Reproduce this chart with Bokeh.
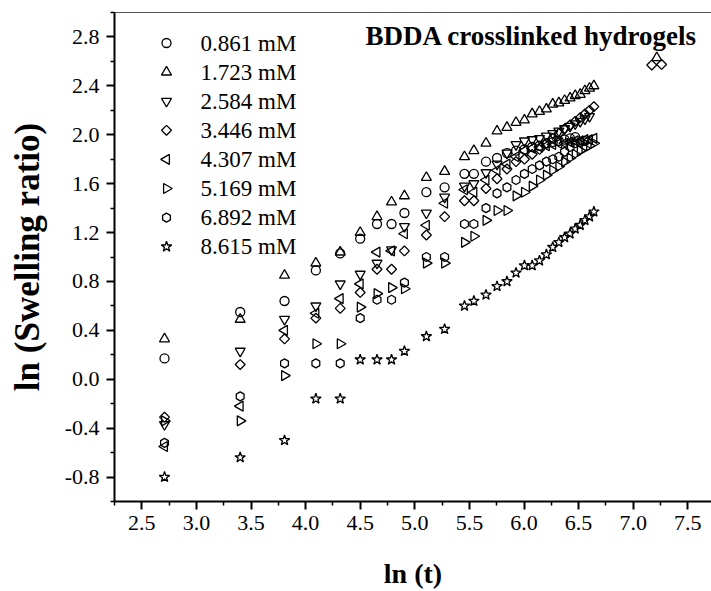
import numpy as np
from bokeh.plotting import figure
from bokeh.models import Label, LinearAxis, FixedTicker, Range1d
from bokeh.embed import file_html
from bokeh.resources import INLINE
from bokeh.core.properties import value

# ---------------- data ----------------
ln_t = [2.708, 3.401, 3.807, 4.094, 4.317, 4.500, 4.654, 4.787, 4.905, 5.106,
        5.273, 5.455, 5.541, 5.652, 5.753, 5.844, 5.927, 6.004, 6.075, 6.142,
        6.205, 6.263, 6.319, 6.372, 6.422, 6.469, 6.515, 6.558, 6.600, 6.640]

labels = ["0.861 mM", "1.723 mM", "2.584 mM", "3.446 mM",
          "4.307 mM", "5.169 mM", "6.892 mM", "8.615 mM"]

y_0861 = [0.17, 0.55, 0.64, 0.89, 1.03, 1.15, 1.27, 1.27, 1.36, 1.53, 1.57, 1.68, 1.68,
          1.78, 1.81, 1.85, 1.87, 1.88, 1.90, 1.91, 1.93, 1.94, 1.95, 1.96, 1.97, 1.98]
x_0861 = ln_t[:len(y_0861)]

y_1723 = [0.33, 0.49, 0.85, 0.95, 1.04, 1.20, 1.33, 1.45, 1.50, 1.65, 1.70, 1.82, 1.87,
          1.93, 2.03, 2.06, 2.10, 2.12, 2.17, 2.19, 2.21, 2.25, 2.26, 2.28, 2.30, 2.32,
          2.33, 2.36, 2.38, 2.40, 2.63]
x_1723 = ln_t + [7.216]

y_2584 = [-0.37, 0.23, 0.49, 0.60, 0.78, 0.86, 0.95, 1.06, 1.25, 1.36, 1.49, 1.58, 1.60,
          1.69, 1.76, 1.85, 1.92, 1.95, 1.96, 1.97, 1.99, 2.01, 2.03, 2.05, 2.07, 2.09,
          2.11, 2.13, 2.15]
x_2584 = ln_t[:len(y_2584)]

y_3446 = [-0.31, 0.12, 0.33, 0.50, 0.58, 0.71, 0.90, 0.90, 1.05, 1.18, 1.33, 1.46, 1.46,
          1.56, 1.64, 1.72, 1.78, 1.80, 1.84, 1.88, 1.93, 1.97, 2.01, 2.05, 2.08, 2.11,
          2.14, 2.17, 2.20, 2.23, 2.57, 2.575]
x_3446 = ln_t + [7.17, 7.26]

y_4307 = [-0.55, -0.22, 0.40, 0.54, 0.66, 0.78, 1.04, 1.05, 1.19, 1.26, 1.44, 1.55, 1.53,
          1.63, 1.71, 1.76, 1.82, 1.87, 1.89, 1.90, 1.91, 1.92, 1.93, 1.93, 1.94, 1.95,
          1.95, 1.96, 1.96, 1.97]
x_4307 = ln_t[:len(y_4307)]

y_5169 = [-0.34, -0.34, 0.03, 0.29, 0.29, 0.59, 0.70, 0.75, 0.74, 0.95, 0.95, 1.12, 1.17,
          1.30, 1.38, 1.38, 1.50, 1.53, 1.58, 1.63, 1.67, 1.71, 1.74, 1.78, 1.81, 1.84,
          1.87, 1.89, 1.91, 1.93]
x_5169 = ln_t[:len(y_5169)]

y_6892 = [-0.52, -0.14, 0.13, 0.13, 0.13, 0.50, 0.65, 0.65, 0.79, 1.00, 1.00, 1.27, 1.27,
          1.40, 1.52, 1.57, 1.63, 1.68, 1.72, 1.75, 1.78, 1.80, 1.82, 1.86, 1.90, 1.93,
          1.94, 1.95]
x_6892 = ln_t[:len(y_6892)]

y_8615 = [-0.80, -0.64, -0.50, -0.16, -0.16, 0.16, 0.16, 0.16, 0.23, 0.35, 0.41, 0.60, 0.64,
          0.69, 0.76, 0.80, 0.87, 0.93, 0.93, 0.97, 1.02, 1.08, 1.12, 1.16, 1.19, 1.23,
          1.26, 1.30, 1.33, 1.37]
x_8615 = ln_t[:len(y_8615)]

x_ticks = [2.5, 3.0, 3.5, 4.0, 4.5, 5.0, 5.5, 6.0, 6.5, 7.0, 7.5]
x_tick_labels = ["2.5", "3.0", "3.5", "4.0", "4.5", "5.0", "5.5", "6.0", "6.5", "7.0", "7.5"]
x_minor = [2.25, 2.75, 3.25, 3.75, 4.25, 4.75, 5.25, 5.75, 6.25, 6.75, 7.25]
y_ticks = [-0.8, -0.4, 0.0, 0.4, 0.8, 1.2, 1.6, 2.0, 2.4, 2.8]
y_tick_labels = ["-0.8", "-0.4", "0.0", "0.4", "0.8", "1.2", "1.6", "2.0", "2.4", "2.8"]
y_minor = [-1.0, -0.6, -0.2, 0.2, 0.6, 1.0, 1.4, 1.8, 2.2, 2.6, 3.0]

# marker style per series: (marker, angle, size)
styles = [("circle", 0.0, 9), ("triangle", 0.0, 10), ("inverted_triangle", 0.0, 10),
          ("square", np.pi / 4, 7), ("triangle", np.pi / 2, 10), ("triangle", -np.pi / 2, 10),
          ("hex", np.pi / 2, 9), ("star", 0.0, 11)]
xs_all = [x_0861, x_1723, x_2584, x_3446, x_4307, x_5169, x_6892, x_8615]
ys_all = [y_0861, y_1723, y_2584, y_3446, y_4307, y_5169, y_6892, y_8615]

FONT = "Liberation Serif"
W, H = 711, 591
BL, BT, BB = 114, 12, 90
X0, X1 = 2.25, 7.717
Y0, Y1 = -1.0, 3.0

p = figure(width=W, height=H,
           x_range=Range1d(X0, X1), y_range=Range1d(Y0, Y1),
           output_backend="svg", toolbar_location=None,
           min_border_left=BL, min_border_right=0,
           min_border_top=BT, min_border_bottom=BB)
p.outline_line_color = None
p.grid.visible = False

for ax in (p.xaxis[0], p.yaxis[0]):
    ax.axis_line_width = 2
    ax.major_tick_line_width = 2
    ax.minor_tick_line_width = 1.5
    ax.major_tick_in = 0
    ax.minor_tick_in = 0
    ax.major_tick_out = 8
    ax.minor_tick_out = 4
    ax.major_label_text_font = FONT
    ax.major_label_text_font_size = "22px"
    ax.major_label_text_color = "black"
    ax.axis_label_text_font = FONT
    ax.axis_label_text_font_style = "bold"
    ax.axis_label_text_color = "black"

p.xaxis.ticker = FixedTicker(ticks=x_ticks, minor_ticks=x_minor)
p.xaxis.major_label_overrides = dict(zip(x_ticks, x_tick_labels))
p.xaxis.axis_label = "ln (t)"
p.xaxis.axis_label_text_font_size = "28px"
p.xaxis.major_label_standoff = 6
p.xaxis.axis_label_standoff = 25

p.yaxis.ticker = FixedTicker(ticks=y_ticks, minor_ticks=y_minor)
p.yaxis.major_label_overrides = dict(zip(y_ticks, y_tick_labels))
p.yaxis.axis_label = "ln (Swelling ratio)"
p.yaxis.axis_label_text_font_size = "35px"
p.yaxis.major_label_standoff = 7
p.yaxis.axis_label_standoff = 15

top = LinearAxis(ticker=FixedTicker(ticks=[]), axis_line_color="#555555",
                 axis_line_width=1, major_tick_out=0, minor_tick_out=0,
                 major_tick_in=0, minor_tick_in=0, major_label_standoff=0)
p.add_layout(top, "above")

for xs, ys, (mk, ang, sz) in zip(xs_all, ys_all, styles):
    p.scatter(xs, ys, marker=mk, angle=ang, size=sz,
              fill_color=None, line_color="black", line_width=1.3)

# legend (drawn by hand so that rotated markers keep their orientation)
frame_w = W - BL
frame_h = H - BT - BB
px_x = (X1 - X0) / frame_w
px_y = (Y1 - Y0) / frame_h
leg_mx = X0 + 52 * px_x
leg_tx = X0 + 86 * px_x
leg_y = [Y1 - (30.5 + 29.1 * i) * px_y for i in range(len(labels))]
for i, (mk, ang, sz) in enumerate(styles):
    p.scatter([leg_mx], [leg_y[i]], marker=mk, angle=ang, size=sz,
              fill_color=None, line_color="black", line_width=1.3)
p.text([leg_tx] * len(labels), leg_y, text=labels,
       text_font=value(FONT), text_font_size=value("23px"),
       text_baseline="middle", text_align="left", text_color="black")

title = Label(x=X0 + (697 - BL) * px_x, y=Y1 - 23 * px_y, text="BDDA crosslinked hydrogels",
              text_align="right", text_baseline="middle",
              text_font=FONT, text_font_style="bold", text_font_size="27px",
              text_color="black")
p.add_layout(title)

open("out.html", "w").write(file_html(p, INLINE))
